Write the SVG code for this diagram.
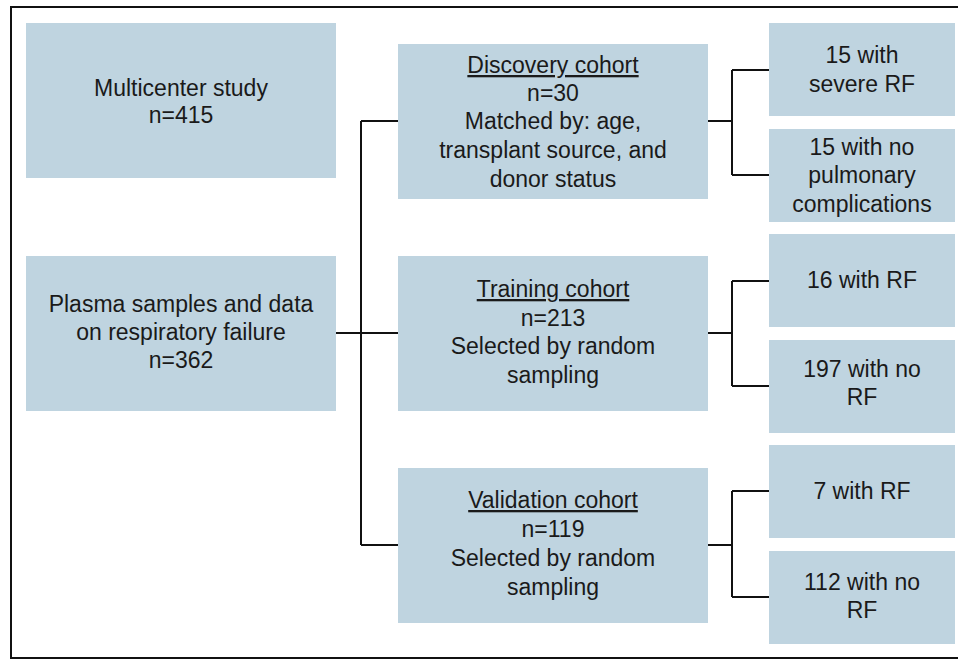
<svg xmlns="http://www.w3.org/2000/svg" width="958" height="659" viewBox="0 0 958 659">
<style>
.box{fill:#bfd4e0;}
.t{font-family:"Liberation Sans",Arial,Helvetica,sans-serif;font-size:23px;fill:#1a1a1a;text-anchor:middle;}
.u{text-decoration:underline;}
.c{fill:none;stroke:#111;stroke-width:2;}
</style>
<rect x="11" y="7" width="960" height="651" fill="#fff" stroke="#111" stroke-width="2"/>
<g id="connectors">
<path class="c" d="M336,333 H398 M361,121 V545 M361,121 H398 M361,545 H398"/>
<path class="c" d="M708,121 H732 M732,70 V175 M732,70 H769 M732,175 H769"/>
<path class="c" d="M708,333 H732 M732,281 V386 M732,281 H769 M732,386 H769"/>
<path class="c" d="M708,545 H732 M732,491 V597 M732,491 H769 M732,597 H769"/>
</g>
<g id="multicenter">
<rect class="box" x="26" y="23" width="310" height="155"/>
<text class="t" x="181" y="96">Multicenter study</text>
<text class="t" x="181" y="123">n=415</text>
</g>
<g id="plasma">
<rect class="box" x="26" y="256" width="310" height="155"/>
<text class="t" x="181" y="312">Plasma samples and data</text>
<text class="t" x="181" y="340">on respiratory failure</text>
<text class="t" x="181" y="368">n=362</text>
</g>
<g id="discovery">
<rect class="box" x="398" y="44" width="310" height="155"/>
<text class="t u" x="553" y="73">Discovery cohort</text>
<text class="t" x="553" y="101">n=30</text>
<text class="t" x="553" y="129">Matched by: age,</text>
<text class="t" x="553" y="158">transplant source, and</text>
<text class="t" x="553" y="187">donor status</text>
</g>
<g id="training">
<rect class="box" x="398" y="256" width="310" height="155"/>
<text class="t u" x="553" y="297">Training cohort</text>
<text class="t" x="553" y="326">n=213</text>
<text class="t" x="553" y="354">Selected by random</text>
<text class="t" x="553" y="383">sampling</text>
</g>
<g id="validation">
<rect class="box" x="398" y="468" width="310" height="155"/>
<text class="t u" x="553" y="508">Validation cohort</text>
<text class="t" x="553" y="537">n=119</text>
<text class="t" x="553" y="566">Selected by random</text>
<text class="t" x="553" y="595">sampling</text>
</g>
<g id="d-severe">
<rect class="box" x="769" y="23" width="186" height="93"/>
<text class="t" x="862" y="63">15 with</text>
<text class="t" x="862" y="92">severe RF</text>
</g>
<g id="d-none">
<rect class="box" x="769" y="129" width="186" height="93"/>
<text class="t" x="862" y="155">15 with no</text>
<text class="t" x="862" y="183">pulmonary</text>
<text class="t" x="862" y="212">complications</text>
</g>
<g id="t-rf">
<rect class="box" x="769" y="234" width="186" height="93"/>
<text class="t" x="862" y="288">16 with RF</text>
</g>
<g id="t-norf">
<rect class="box" x="769" y="340" width="186" height="93"/>
<text class="t" x="862" y="377">197 with no</text>
<text class="t" x="862" y="405">RF</text>
</g>
<g id="v-rf">
<rect class="box" x="769" y="445" width="186" height="93"/>
<text class="t" x="862" y="499">7 with RF</text>
</g>
<g id="v-norf">
<rect class="box" x="769" y="551" width="186" height="93"/>
<text class="t" x="862" y="590">112 with no</text>
<text class="t" x="862" y="618">RF</text>
</g>
</svg>
